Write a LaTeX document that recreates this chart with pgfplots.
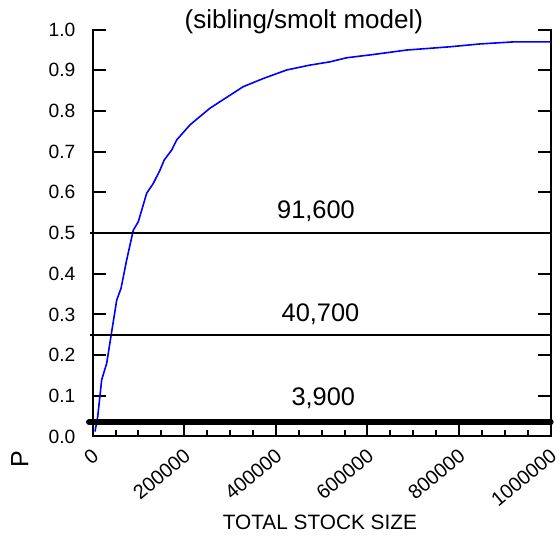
\documentclass[border=0pt]{standalone}
\usepackage{fontspec}
\setmainfont{Liberation Sans}
\usepackage{pgfplots}
\pgfplotsset{compat=1.18}
\begin{document}
\begin{tikzpicture}
\begin{axis}[
  scale only axis,
  width=229pt, height=203.35pt,
  xmin=0, xmax=1000000, ymin=0, ymax=1,
  axis line style={draw=none},
  clip=false,
  xtick={0,200000,400000,600000,800000,1000000},
  minor x tick num=3,
  ytick={0,0.1,...,1.0},
  xtick pos=bottom, ytick pos=both,
  tick align=inside,
  major tick length=6.5pt, minor tick length=3pt,
  every tick/.style={black, line width=1pt},
  scaled x ticks=false,
  /pgf/number format/assume math mode=true,
  xticklabel={\pgfmathprintnumber[fixed,1000 sep={}]{\tick}},
  yticklabel={\pgfmathprintnumber[fixed,fixed zerofill,precision=1]{\tick}},
  xticklabel style={font=\fontsize{10pt}{12pt}\selectfont, inner sep=0pt, xshift=1.6pt, yshift=-8pt, rotate=40, anchor=east},
  yticklabel style={font=\fontsize{9.6pt}{12pt}\selectfont, inner sep=0pt, xshift=-8.5pt},
]
\draw[line width=1pt, line cap=rect] (rel axis cs:0,1) -- (rel axis cs:0,0) -- (rel axis cs:1,0) -- (rel axis cs:1,1);
\addplot[blue, line width=0.8pt] coordinates {
(5000,0.012) (10900,0.048) (19600,0.139) (30600,0.180) (40000,0.247)
(52400,0.335) (61800,0.364) (74200,0.434) (88600,0.507) (99600,0.528)
(117900,0.598) (132300,0.622) (147000,0.655) (156300,0.680) (172500,0.704)
(183400,0.729) (212400,0.766) (256100,0.807) (288900,0.831) (328800,0.860)
(372500,0.880) (423600,0.901) (474500,0.913) (518100,0.921) (554600,0.931)
(612700,0.939) (685600,0.950) (780100,0.958) (845600,0.965) (918300,0.970)
(1000000,0.970)};
\addplot[black, line width=1pt] coordinates {(-5500,0.5) (1000000,0.5)};
\addplot[black, line width=1pt] coordinates {(-5500,0.25) (1000000,0.25)};
\addplot[black, line width=3pt, line cap=round] coordinates {(-8000,0.035) (1000000,0.035)};
\node[anchor=base, font=\fontsize{13pt}{15pt}\selectfont] at (axis cs:461000,1.003) {(sibling/smolt model)};
\node[anchor=base, font=\fontsize{12.7pt}{15pt}\selectfont] at (axis cs:487600,0.5346) {91,600};
\node[anchor=base, font=\fontsize{12.7pt}{15pt}\selectfont] at (axis cs:497400,0.2825) {40,700};
\node[anchor=base, font=\fontsize{12.7pt}{15pt}\selectfont] at (axis cs:503500,0.0772) {3,900};
\node[rotate=90, font=\fontsize{12.5pt}{15pt}\selectfont] at (rel axis cs:-0.159,-0.0556) {P};
\node[font=\fontsize{10.4pt}{12pt}\selectfont] at (rel axis cs:0.496,-0.2105) {TOTAL STOCK SIZE};
\end{axis}
\pgfresetboundingbox
\path[use as bounding box] (current axis.south west) ++(-46.35pt,-50.8pt) rectangle ++(279.5pt,269pt);
\end{tikzpicture}
\end{document}
